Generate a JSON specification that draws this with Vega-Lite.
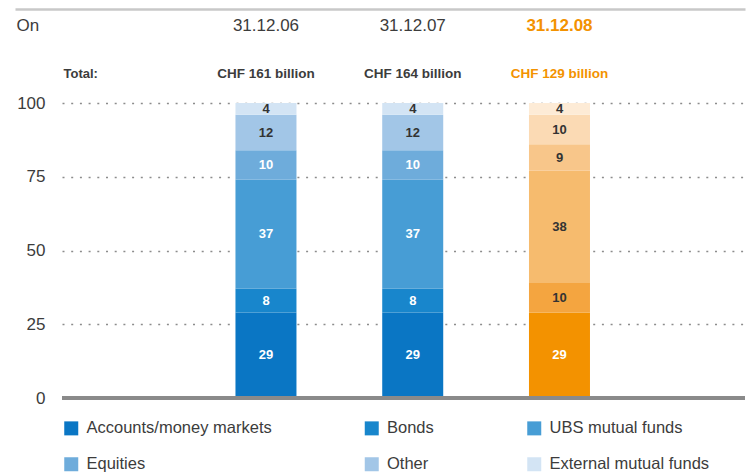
{
  "$schema": "https://vega.github.io/schema/vega-lite/v6.json",
  "autosize": {"type": "none"},
  "width": 683,
  "height": 295,
  "padding": {"left": 62, "top": 103, "right": 6, "bottom": 77},
  "background": "#ffffff",
  "config": {"view": {"stroke": null}, "font": "Liberation Sans"},
  "data": {
    "values": [
      {"date": "31.12.06", "category": "Accounts/money markets", "rank": 1, "value": 29},
      {"date": "31.12.06", "category": "Bonds", "rank": 2, "value": 8},
      {"date": "31.12.06", "category": "UBS mutual funds", "rank": 3, "value": 37},
      {"date": "31.12.06", "category": "Equities", "rank": 4, "value": 10},
      {"date": "31.12.06", "category": "Other", "rank": 5, "value": 12},
      {"date": "31.12.06", "category": "External mutual funds", "rank": 6, "value": 4},
      {"date": "31.12.07", "category": "Accounts/money markets", "rank": 1, "value": 29},
      {"date": "31.12.07", "category": "Bonds", "rank": 2, "value": 8},
      {"date": "31.12.07", "category": "UBS mutual funds", "rank": 3, "value": 37},
      {"date": "31.12.07", "category": "Equities", "rank": 4, "value": 10},
      {"date": "31.12.07", "category": "Other", "rank": 5, "value": 12},
      {"date": "31.12.07", "category": "External mutual funds", "rank": 6, "value": 4},
      {"date": "31.12.08", "category": "Accounts/money markets", "rank": 1, "value": 29},
      {"date": "31.12.08", "category": "Bonds", "rank": 2, "value": 10},
      {"date": "31.12.08", "category": "UBS mutual funds", "rank": 3, "value": 38},
      {"date": "31.12.08", "category": "Equities", "rank": 4, "value": 9},
      {"date": "31.12.08", "category": "Other", "rank": 5, "value": 10},
      {"date": "31.12.08", "category": "External mutual funds", "rank": 6, "value": 4}
    ]
  },
  "transform": [
    {"stack": "value", "groupby": ["date"], "sort": [{"field": "rank", "order": "ascending"}], "as": ["y0", "y1"]}
  ],
  "resolve": {"scale": {"color": "independent", "x": "independent"}, "axis": {"x": "independent"}},
  "layer": [
    {
      "transform": [{"filter": "datum.date != '31.12.08'"}],
      "mark": {"type": "bar", "width": 61},
      "encoding": {
        "x": {
          "field": "date", "type": "nominal",
          "scale": {"domain": ["31.12.06", "31.12.07", "31.12.08"], "paddingInner": 0, "paddingOuter": 0.827, "align": 0.538},
          "axis": null
        },
        "y": {
          "field": "y0", "type": "quantitative",
          "scale": {"domain": [0, 100], "nice": false},
          "axis": {
            "values": [0, 12.5, 25, 37.5, 50, 62.5, 75, 87.5, 100],
            "labelExpr": "datum.value % 25 == 0 ? datum.label : ''",
            "grid": true, "gridDash": [2, 6.7], "gridColor": "#8c8c8c", "gridWidth": 1.3,
            "domain": false, "ticks": false, "labelPadding": 17,
            "labelFont": "Liberation Sans", "labelFontSize": 17, "labelColor": "#3c3c3c", "title": null
          }
        },
        "y2": {"field": "y1"},
        "color": {
          "field": "category", "type": "nominal",
          "scale": {
            "domain": ["Accounts/money markets", "Bonds", "UBS mutual funds", "Equities", "Other", "External mutual funds"],
            "range": ["#0a76c4", "#1886cc", "#479dd5", "#6eacdb", "#a2c6e7", "#d3e4f4"]
          },
          "legend": {
            "orient": "none", "legendX": 1, "legendY": 317, "direction": "horizontal", "columns": 3,
            "columnPadding": 91.5, "rowPadding": 19, "padding": 0,
            "symbolType": "square", "symbolSize": 196, "symbolStrokeWidth": 0, "symbolOpacity": 1,
            "labelOffset": 7, "labelFont": "Liberation Sans", "labelFontSize": 16.5, "labelColor": "#3c3c3c", "labelLimit": 400,
            "title": null
          }
        }
      }
    },
    {
      "transform": [{"filter": "datum.date == '31.12.08'"}],
      "mark": {"type": "bar", "width": 61},
      "encoding": {
        "x": {
          "field": "date", "type": "nominal",
          "scale": {"domain": ["31.12.06", "31.12.07", "31.12.08"], "paddingInner": 0, "paddingOuter": 0.827, "align": 0.538},
          "axis": {
            "orient": "top", "offset": 0, "domain": false, "ticks": false, "tickSize": 0, "grid": false,
            "labelPadding": 30, "labelBaseline": "middle", "labelAngle": 0,
            "labelExpr": "datum.value == '31.12.06' ? 'CHF 161 billion' : datum.value == '31.12.07' ? 'CHF 164 billion' : 'CHF 129 billion'",
            "labelFont": "Liberation Sans", "labelFontSize": 13.5, "labelFontWeight": "bold",
            "labelColor": {"condition": {"test": "datum.value == '31.12.08'", "value": "#f39200"}, "value": "#3c3c3c"},
            "title": "Total:", "titleX": 1, "titleY": -30, "titleAlign": "left", "titleBaseline": "middle", "titleAngle": 0,
            "titleFont": "Liberation Sans", "titleFontSize": 13, "titleFontWeight": "bold", "titleColor": "#3c3c3c"
          }
        },
        "y": {"field": "y0", "type": "quantitative"},
        "y2": {"field": "y1"},
        "color": {
          "field": "category", "type": "nominal",
          "scale": {
            "domain": ["Accounts/money markets", "Bonds", "UBS mutual funds", "Equities", "Other", "External mutual funds"],
            "range": ["#f39200", "#f4a540", "#f6bb6e", "#f8c68a", "#fbdab4", "#fdebd6"]
          },
          "legend": null
        }
      }
    },
    {
      "transform": [{"fold": ["y0", "y1"], "as": ["edge", "pos"]}],
      "mark": {"type": "text", "font": "Liberation Sans", "fontSize": 13, "fontWeight": "bold", "baseline": "middle", "align": "center"},
      "encoding": {
        "x": {
          "field": "date", "type": "nominal",
          "scale": {"type": "band", "domain": ["31.12.06", "31.12.07", "31.12.08"], "range": [-47, 683], "paddingInner": 0, "paddingOuter": 0.9872, "align": 0.613},
          "axis": {
            "orient": "top", "offset": 94, "domainColor": "#c8c8c8", "domainWidth": 2.5,
            "ticks": false, "tickSize": 0, "labelPadding": -16, "labelBaseline": "middle", "labelAngle": 0,
            "labelFont": "Liberation Sans", "labelFontSize": 17,
            "labelColor": {"condition": {"test": "datum.value == '31.12.08'", "value": "#f39200"}, "value": "#3c3c3c"},
            "labelFontWeight": {"condition": {"test": "datum.value == '31.12.08'", "value": "bold"}, "value": "normal"},
            "grid": false,
            "title": "On", "titleX": -46, "titleY": 16, "titleAlign": "left", "titleBaseline": "middle", "titleAngle": 0,
            "titleFont": "Liberation Sans", "titleFontSize": 17, "titleFontWeight": "normal", "titleColor": "#3c3c3c"
          }
        },
        "y": {"aggregate": "mean", "field": "pos", "type": "quantitative"},
        "detail": {"field": "category", "type": "nominal"},
        "text": {"field": "value", "type": "quantitative"},
        "color": {
          "condition": {
            "test": "datum.category == 'Accounts/money markets' || (datum.date != '31.12.08' && (datum.category == 'Bonds' || datum.category == 'UBS mutual funds' || datum.category == 'Equities'))",
            "value": "#ffffff"
          },
          "value": "#333333"
        }
      }
    },
    {
      "mark": {"type": "rule", "color": "#8a8a8a", "strokeWidth": 4},
      "encoding": {"y": {"datum": 0}}
    }
  ]
}
